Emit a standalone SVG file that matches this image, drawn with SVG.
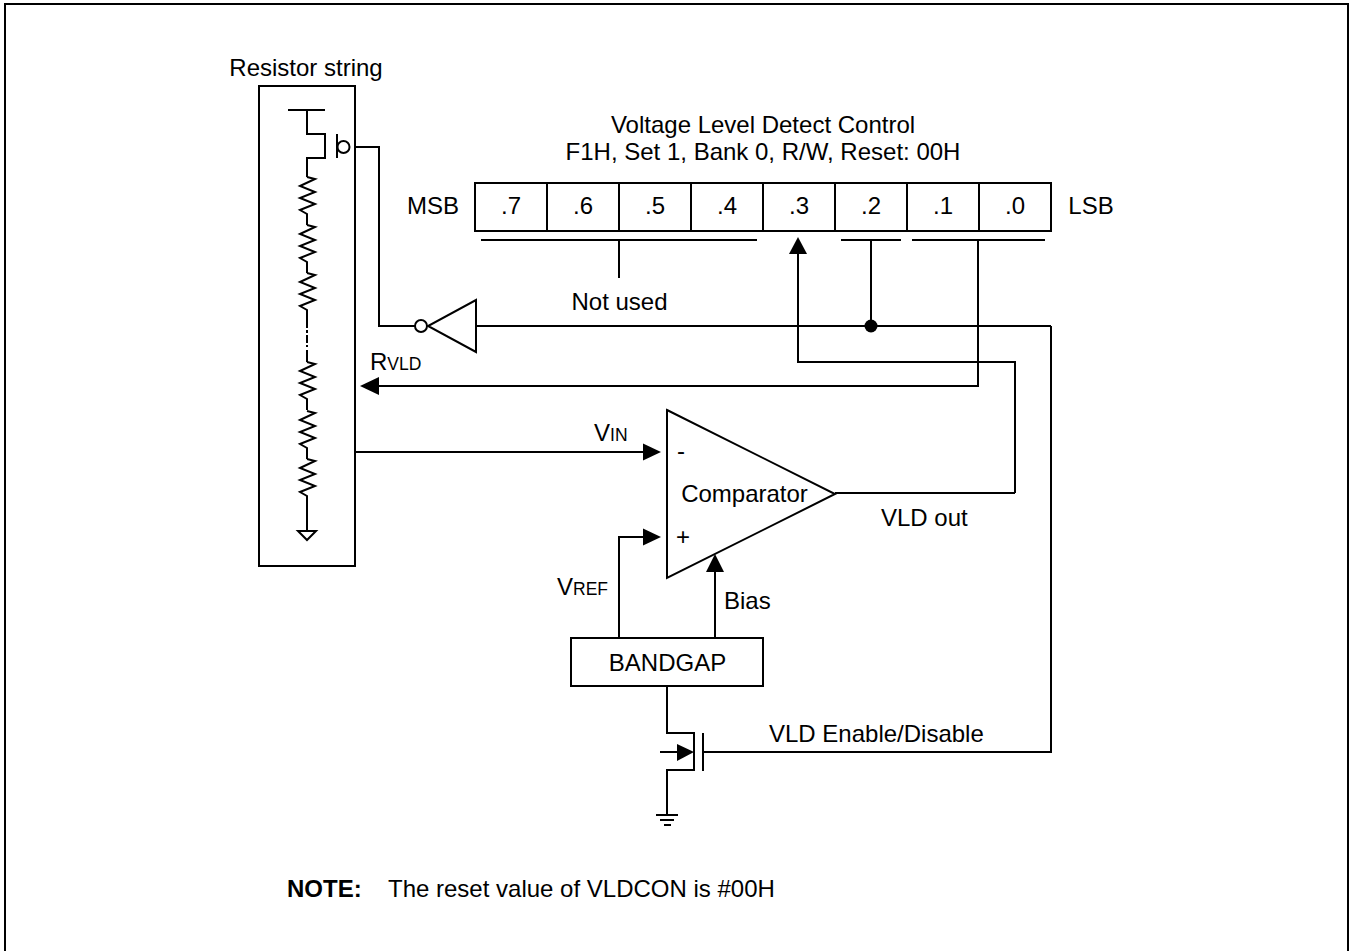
<svg xmlns="http://www.w3.org/2000/svg" width="1353" height="951" viewBox="0 0 1353 951">
<style>
.l{fill:none;stroke:#000;stroke-width:2}
.b{fill:#fff;stroke:#000;stroke-width:2}
.a{fill:#000;stroke:none}
text{font-family:"Liberation Sans",Arial,sans-serif;font-size:24px;fill:#000}
.m{text-anchor:middle}
.s{font-size:17.500px}
</style>
<defs>
<path id="r" d="M307 177L315 179L300 186L315 192L300 198L315 204L300 210L307 214V225"/>
</defs>
<rect x="0" y="0" width="1353" height="951" fill="#fff"/>
<path id="frame" d="M5 951V4H1348V951" class="l"/>
<g id="connectors">
<path class="l" d="M355 147H379V326H416"/>
<path class="l" d="M1051 326H477M1051 326V752H703"/>
<path class="l" d="M871 240V326"/>
<circle class="a" cx="871" cy="326" r="6.500"/>
<path class="l" d="M978 240V386H375"/>
<path class="a" d="M360 386L379 377V395Z"/>
<path class="l" d="M1015 493V362H798V250"/>
<path class="a" d="M798 237L789 254H807Z"/>
<path class="l" d="M835 493H1015"/>
<path class="l" d="M356 452H648"/>
<path class="a" d="M661 452L643 443.500V460.500Z"/>
<path class="l" d="M619 637V537H648"/>
<path class="a" d="M661 537L643 528.500V545.500Z"/>
<path class="l" d="M715 637V568"/>
<path class="a" d="M715 554L706 572H724Z"/>
<path class="l" d="M667 686V733H694V770H667V815"/>
<path class="l" d="M660 752H680"/>
<path class="a" d="M694 752L677 744V761Z"/>
<path class="l" d="M656 815H678M660 820H674M664 825H671"/>
</g>
<g id="resistor-string">
<rect x="259" y="86" width="96" height="480" class="l"/>
<path class="l" d="M288 110H325M307 110V134H325V158H307V177"/>
<path class="l" d="M337 134V158"/>
<circle class="b" cx="343.500" cy="147" r="6"/>
<use href="#r" class="l"/>
<use href="#r" y="48" class="l"/>
<use href="#r" y="96" class="l"/>
<path class="l" d="M307 320V347" stroke-dasharray="8 2 3 2"/>
<path class="l" d="M307 350V362"/>
<use href="#r" y="185" class="l"/>
<use href="#r" y="234" class="l"/>
<use href="#r" y="282" class="l"/>
<path class="l" d="M307 507V531"/>
<path class="b" d="M298 531H316L307 540Z"/>
<text x="306" y="76" class="m">Resistor string</text>
</g>
<g id="register">
<rect x="475" y="183" width="576" height="48" class="l"/>
<path class="l" d="M547 183V231M619 183V231M691 183V231M763 183V231M835 183V231M907 183V231M979 183V231"/>
<text x="511" y="214" class="m">.7</text>
<text x="583" y="214" class="m">.6</text>
<text x="655" y="214" class="m">.5</text>
<text x="727" y="214" class="m">.4</text>
<text x="799" y="214" class="m">.3</text>
<text x="871" y="214" class="m">.2</text>
<text x="943" y="214" class="m">.1</text>
<text x="1015" y="214" class="m">.0</text>
<text x="433" y="214" class="m">MSB</text>
<text x="1091" y="214" class="m">LSB</text>
<text x="763" y="133" class="m">Voltage Level Detect Control</text>
<text x="763" y="160" class="m">F1H, Set 1, Bank 0, R/W, Reset: 00H</text>
<path class="l" d="M481 240H757M841 240H901M912 240H1045M619 240V278"/>
<text x="619.500" y="310" class="m">Not used</text>
</g>
<g id="inverter">
<path class="b" d="M476 300V352L428 326Z"/>
<circle class="b" cx="421" cy="326" r="6"/>
</g>
<g id="comparator">
<path class="b" d="M667 410L835 494L667 578Z"/>
<text x="744.500" y="502" class="m">Comparator</text>
<text x="677" y="459">-</text>
<text x="676" y="545">+</text>
</g>
<g id="bandgap">
<rect x="571" y="638" width="192" height="48" class="b"/>
<text x="667.500" y="671" class="m">BANDGAP</text>
</g>
<g id="mosfet">
<path class="l" d="M703 733V771"/>
</g>
<g id="labels">
<text x="370" y="370">R<tspan class="s">VLD</tspan></text>
<text x="594" y="441">V<tspan class="s">IN</tspan></text>
<text x="557" y="595">V<tspan class="s">REF</tspan></text>
<text x="724" y="609">Bias</text>
<text x="881" y="526">VLD out</text>
<text x="769" y="742">VLD Enable/Disable</text>
<text x="287" y="897" style="font-weight:bold">NOTE:</text>
<text x="388" y="897">The reset value of VLDCON is #00H</text>
</g>
</svg>
